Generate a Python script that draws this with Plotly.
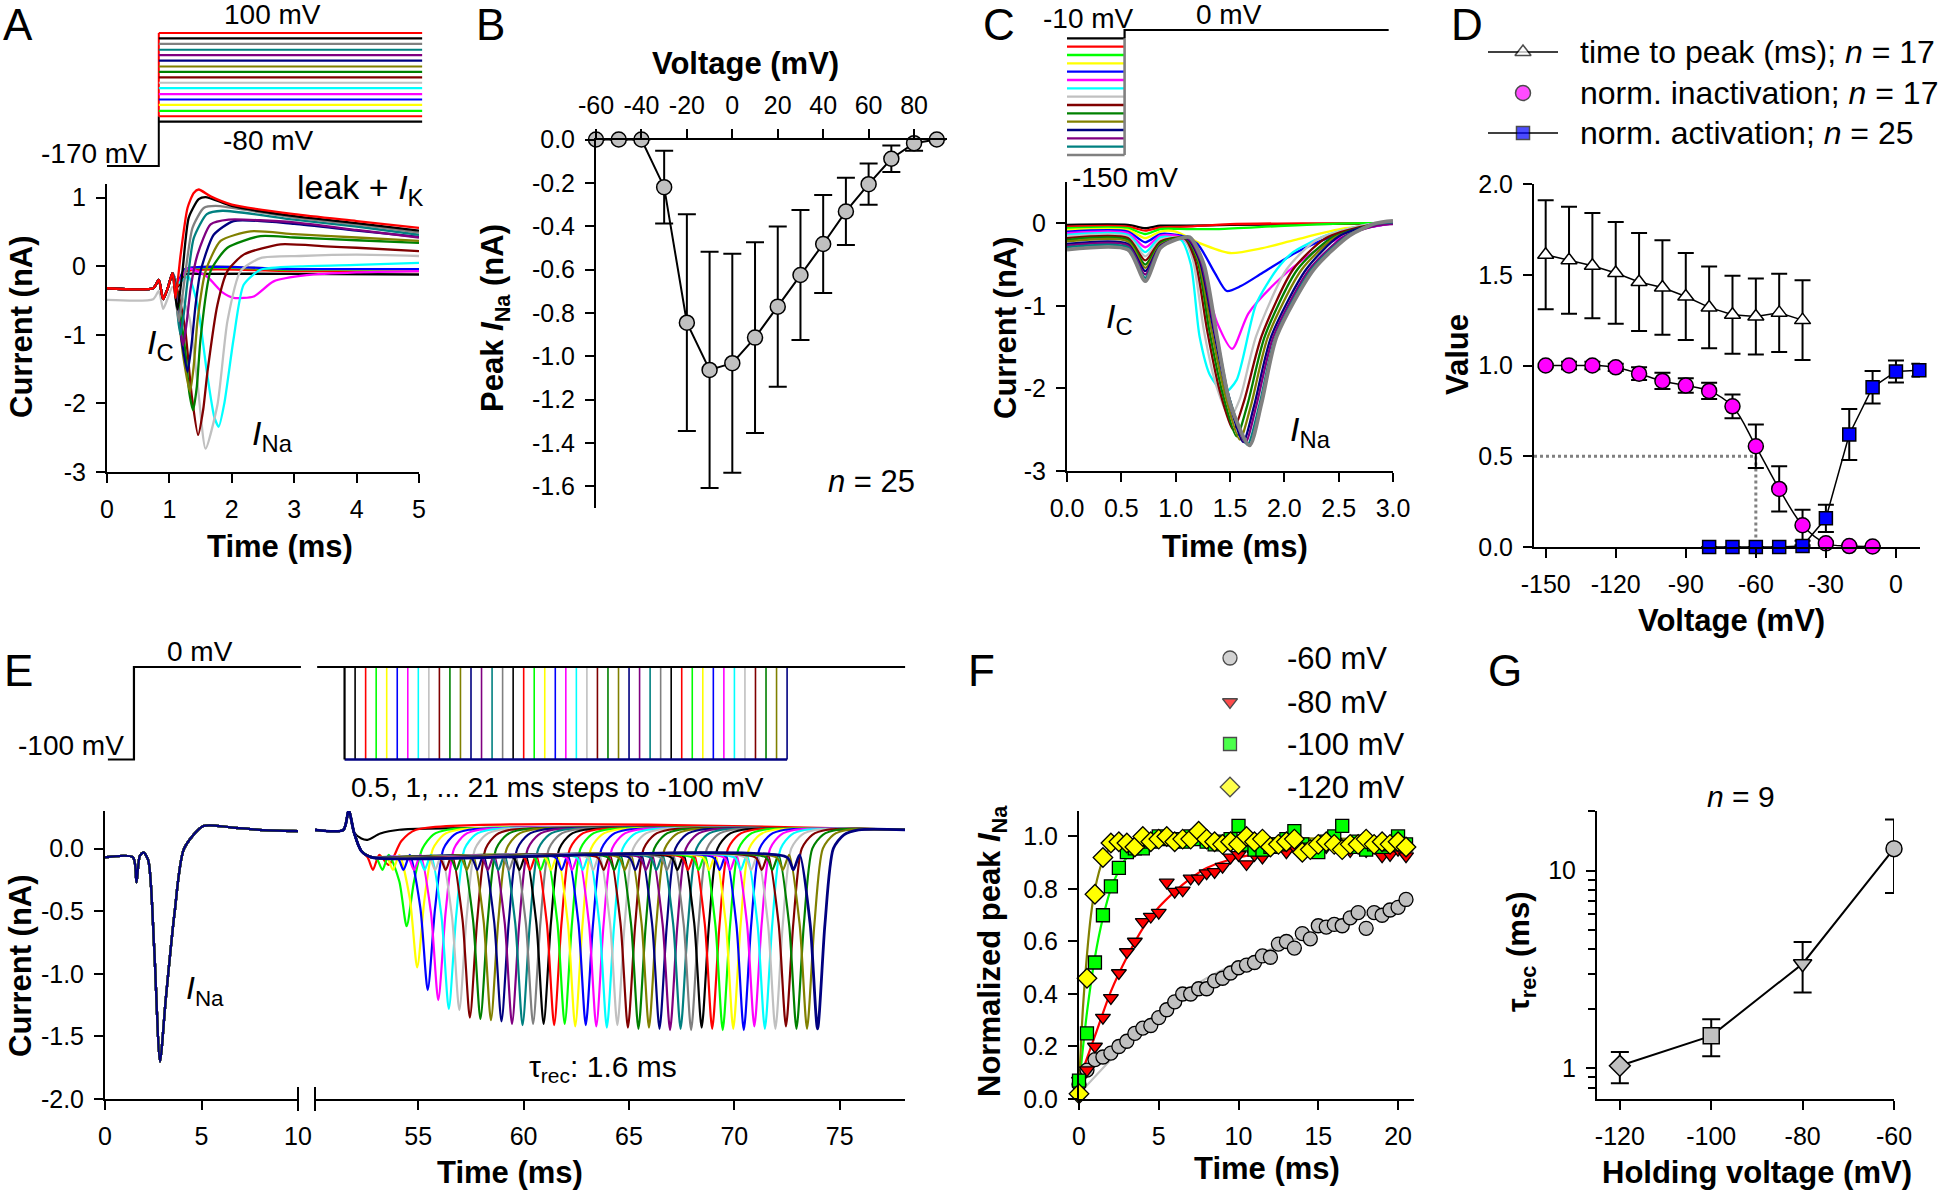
import math
import plotly.graph_objects as go

W, H = 1944, 1192
FONT = "Liberation Sans, Arial, Helvetica, sans-serif"

# SigmaPlot-like colour cycle used for the families of traces
PAL = ["#000000", "#FF0000", "#00FF00", "#FFFF00", "#0000FF", "#FF00FF", "#00FFFF",
       "#C0C0C0", "#800000", "#008000", "#808000", "#000080", "#800080", "#008080", "#808080"]

# ---------------- Panel A : activation protocol and currents ----------------
A_LEVELS_MV = [-80, -69, -58, -46, -35, -24, -12, -1, 10, 21, 32, 44, 55, 66, 78, 89, 100]
A_HOLD_MV = -170
A_STEP_MS = 0.83
A_END_MS = 5.05
A_PRE = [(0.0, -0.32), (0.74, -0.32), (0.83, -0.20), (0.90, -0.48), (0.98, -0.30), (1.05, -0.10)]
A_TRACES = [
    [(1.13, -0.30), (1.25, -0.12), (1.5, -0.11), (3.0, -0.11), (5.0, -0.12)],
    [(1.13, -0.28), (1.25, -0.08), (3.0, -0.07), (5.0, -0.07)],
    [(1.13, -0.26), (1.25, -0.05), (3.0, -0.05), (5.0, -0.05)],
    [(1.13, -0.25), (1.25, -0.04), (3.0, -0.04), (5.0, -0.05)],
    [(1.13, -0.25), (1.25, -0.04), (3.0, -0.04), (5.0, -0.04)],
    [(1.13, -0.25), (1.29, -0.03), (1.6, -0.15), (1.85, -0.38), (2.03, -0.46), (2.35, -0.44),
     (2.67, -0.22), (3.2, -0.13), (4.0, -0.09), (5.0, -0.07)],
    [(1.13, -0.25), (1.3, -0.15), (1.45, -0.56), (1.6, -1.54), (1.72, -2.20), (1.79, -2.34),
     (1.88, -2.00), (2.03, -1.05), (2.19, -0.27), (2.46, -0.05), (3.1, 0.0), (4.0, 0.02), (5.0, 0.05)],
    [(0.0, -0.49), (0.74, -0.48), (0.83, -0.36), (0.90, -0.62), (0.98, -0.45), (1.05, -0.30),
     (1.2, -0.45), (1.32, -0.75), (1.45, -1.70), (1.58, -2.66), (1.77, -2.02), (1.93, -0.80),
     (2.14, -0.07), (2.46, 0.12), (3.1, 0.15), (4.0, 0.17), (5.0, 0.15)],
    [(1.13, -0.35), (1.25, -0.90), (1.36, -1.90), (1.46, -2.46), (1.54, -2.10), (1.61, -1.54),
     (1.77, -0.56), (1.93, -0.07), (2.19, 0.17), (2.78, 0.32), (3.5, 0.29), (4.0, 0.27), (5.0, 0.22)],
    [(1.13, -0.45), (1.25, -1.20), (1.32, -1.85), (1.38, -2.10), (1.44, -1.75), (1.5, -1.05),
     (1.66, -0.07), (1.93, 0.27), (2.46, 0.44), (3.0, 0.42), (4.0, 0.38), (5.0, 0.34)],
    [(1.12, -0.50), (1.22, -1.30), (1.33, -1.83), (1.39, -1.45), (1.45, -0.80), (1.58, -0.07),
     (1.82, 0.37), (2.3, 0.51), (3.0, 0.47), (4.0, 0.42), (5.0, 0.37)],
    [(1.12, -0.50), (1.2, -1.10), (1.29, -1.54), (1.36, -1.10), (1.42, -0.56), (1.5, -0.07),
     (1.71, 0.46), (2.03, 0.66), (3.0, 0.62), (4.0, 0.52), (5.0, 0.43)],
    [(1.12, -0.50), (1.17, -0.90), (1.22, -1.15), (1.28, -0.80), (1.34, -0.32), (1.45, 0.17),
     (1.66, 0.61), (1.95, 0.68), (3.0, 0.64), (4.0, 0.53), (5.0, 0.42)],
    [(1.11, -0.50), (1.15, -0.85), (1.18, -1.00), (1.23, -0.70), (1.29, -0.22), (1.39, 0.41),
     (1.6, 0.76), (1.85, 0.81), (3.0, 0.68), (4.0, 0.58), (5.0, 0.46)],
    [(1.10, -0.45), (1.15, -0.80), (1.2, -0.50), (1.26, -0.07), (1.37, 0.56), (1.55, 0.85),
     (1.74, 0.88), (3.0, 0.71), (4.0, 0.61), (5.0, 0.49)],
    [(1.09, -0.40), (1.13, -0.63), (1.21, -0.07), (1.31, 0.71), (1.47, 0.98), (1.58, 1.01),
     (2.0, 0.88), (3.0, 0.73), (4.0, 0.63), (5.0, 0.52)],
    [(1.08, -0.30), (1.10, -0.46), (1.18, 0.17), (1.29, 0.85), (1.39, 1.07), (1.47, 1.12),
     (1.66, 1.02), (2.0, 0.90), (3.0, 0.76), (4.0, 0.66), (5.0, 0.56)],
]

# ---------------- Panel B : peak I-V ----------------
B_V = [-60, -50, -40, -30, -20, -10, 0, 10, 20, 30, 40, 50, 60, 70, 80, 90]
B_I = [0.0, 0.0, 0.0, -0.22, -0.845, -1.063, -1.032, -0.914, -0.771, -0.625, -0.482,
       -0.332, -0.206, -0.089, -0.017, 0.0]
B_ERR = [0, 0, 0, 0.168, 0.50, 0.545, 0.505, 0.44, 0.37, 0.30, 0.226, 0.155, 0.095,
         0.061, 0.035, 0]

# ---------------- Panel C : inactivation protocol and currents ----------------
C_PRE_MV = [-10, -20, -30, -40, -50, -60, -70, -80, -90, -100, -110, -120, -130, -140, -150]
C_TEST_MV = 0
C_STEP_MS = 0.53
C_END_MS = 2.96
C_TRACES = [
    [(0, -0.02), (0.56, -0.02), (0.72, -0.06), (0.86, -0.03), (1.1, -0.03), (1.5, -0.02), (2.2, -0.01), (3.0, 0.0)],
    [(0, -0.04), (0.56, -0.04), (0.72, -0.09), (0.86, -0.05), (1.1, -0.04), (1.5, -0.01), (2.2, 0.0), (3.0, 0.0)],
    [(0, -0.06), (0.56, -0.06), (0.72, -0.13), (0.86, -0.07), (1.1, -0.07), (1.4, -0.07), (2.0, -0.03), (2.6, 0.0), (3.0, 0.0)],
    [(0, -0.08), (0.56, -0.08), (0.72, -0.18), (0.86, -0.10), (1.0, -0.10), (1.22, -0.24), (1.5, -0.36), (1.8, -0.30),
     (2.1, -0.20), (2.56, -0.06), (3.0, 0.0)],
    [(0, -0.10), (0.56, -0.10), (0.72, -0.23), (0.86, -0.13), (1.05, -0.15), (1.2, -0.25), (1.36, -0.60), (1.47, -0.82),
     (1.6, -0.76), (1.8, -0.60), (2.1, -0.36), (2.4, -0.18), (2.72, -0.06), (3.0, 0.0)],
    [(0, -0.12), (0.56, -0.12), (0.72, -0.29), (0.86, -0.15), (1.05, -0.17), (1.22, -0.50), (1.38, -1.20), (1.52, -1.52),
     (1.67, -1.09), (1.92, -0.72), (2.17, -0.44), (2.41, -0.24), (2.75, -0.06), (3.0, 0.0)],
    [(0, -0.14), (0.56, -0.14), (0.72, -0.35), (0.86, -0.17), (1.05, -0.20), (1.14, -0.50), (1.22, -1.37), (1.32, -1.85),
     (1.45, -2.05), (1.56, -1.90), (1.74, -0.98), (1.93, -0.56), (2.08, -0.35), (2.38, -0.15), (2.75, -0.02), (3.0, 0.01)],
    [(0, -0.16), (0.56, -0.16), (0.72, -0.40), (0.86, -0.20), (1.07, -0.18), (1.16, -0.45), (1.26, -1.30), (1.37, -1.95),
     (1.5, -2.35), (1.59, -2.13), (1.74, -1.37), (2.02, -0.56), (2.3, -0.20), (2.7, -0.03), (3.0, 0.01)],
    [(0, -0.18), (0.56, -0.18), (0.72, -0.45), (0.86, -0.22), (1.08, -0.18), (1.18, -0.45), (1.29, -1.30), (1.4, -2.00),
     (1.53, -2.50), (1.63, -2.15), (1.79, -1.37), (2.08, -0.56), (2.38, -0.18), (2.75, -0.03), (3.0, 0.01)],
    [(0, -0.20), (0.56, -0.20), (0.72, -0.50), (0.86, -0.24), (1.09, -0.18), (1.2, -0.45), (1.31, -1.30), (1.43, -2.05),
     (1.56, -2.58), (1.66, -2.20), (1.82, -1.37), (2.12, -0.56), (2.43, -0.18), (2.78, -0.03), (3.0, 0.01)],
    [(0, -0.22), (0.56, -0.22), (0.72, -0.54), (0.86, -0.26), (1.10, -0.18), (1.21, -0.45), (1.33, -1.30), (1.45, -2.05),
     (1.59, -2.62), (1.69, -2.22), (1.85, -1.37), (2.16, -0.56), (2.47, -0.17), (2.8, -0.03), (3.0, 0.01)],
    [(0, -0.25), (0.56, -0.25), (0.72, -0.58), (0.86, -0.27), (1.10, -0.18), (1.22, -0.45), (1.35, -1.30), (1.47, -2.05),
     (1.62, -2.65), (1.72, -2.22), (1.88, -1.37), (2.2, -0.56), (2.5, -0.16), (2.82, -0.02), (3.0, 0.01)],
    [(0, -0.27), (0.56, -0.27), (0.72, -0.62), (0.86, -0.28), (1.11, -0.18), (1.23, -0.45), (1.36, -1.30), (1.48, -2.05),
     (1.64, -2.66), (1.74, -2.22), (1.9, -1.37), (2.23, -0.56), (2.55, -0.16), (2.84, -0.03), (3.0, -0.01)],
    [(0, -0.29), (0.56, -0.29), (0.72, -0.66), (0.86, -0.29), (1.12, -0.17), (1.24, -0.45), (1.37, -1.30), (1.49, -2.10),
     (1.66, -2.68), (1.77, -2.20), (1.92, -1.37), (2.25, -0.56), (2.58, -0.15), (2.84, -0.01), (3.0, 0.01)],
    [(0, -0.32), (0.56, -0.32), (0.72, -0.70), (0.86, -0.30), (1.0, -0.20), (1.13, -0.17), (1.26, -0.50), (1.38, -1.37),
     (1.5, -2.18), (1.68, -2.69), (1.79, -2.18), (1.93, -1.37), (2.27, -0.56), (2.6, -0.15), (2.84, 0.0), (3.0, 0.03)],
]

# ---------------- Panel D : summary ----------------
D_TTP_V = [-150, -140, -130, -120, -110, -100, -90, -80, -70, -60, -50, -40]
D_TTP = [1.61, 1.58, 1.55, 1.51, 1.46, 1.43, 1.38, 1.32, 1.28, 1.27, 1.29, 1.25]
D_TTP_ERR = [0.30, 0.295, 0.29, 0.28, 0.27, 0.26, 0.24, 0.225, 0.215, 0.21, 0.215, 0.22]
D_INACT_V = [-150, -140, -130, -120, -110, -100, -90, -80, -70, -60, -50, -40, -30, -20, -10]
D_INACT = [1.0, 1.0, 1.0, 0.99, 0.955, 0.915, 0.89, 0.86, 0.775, 0.555, 0.32, 0.12, 0.02, 0.005, 0.003]
D_INACT_ERR = [0.01, 0.02, 0.02, 0.02, 0.035, 0.045, 0.04, 0.045, 0.065, 0.12, 0.125, 0.085, 0.01, 0.005, 0.003]
D_ACT_V = [-80, -70, -60, -50, -40, -30, -20, -10, 0, 10]
D_ACT = [0.0, 0.0, 0.0, 0.0, 0.005, 0.158, 0.62, 0.88, 0.967, 0.974]
D_ACT_ERR = [0, 0, 0, 0, 0.005, 0.075, 0.14, 0.09, 0.06, 0.035]
D_HALF_V = -60
D_HALF_LEVEL = 0.5

# ---------------- Panel E : recovery protocol and currents ----------------
E_HOLD_MV = -100
E_TEST_MV = 0
E_FIRST_STEP_MS = 1.5
E_LEFT_T = [0.0, 1.45, 1.63, 1.8, 2.0, 2.25, 2.55, 2.85, 3.15, 3.6, 4.1, 5.1, 6.5, 8.0, 10.0]
E_LEFT_I = [-0.07, -0.07, -0.27, -0.06, -0.03, -0.10, -0.80, -1.70, -1.20, -0.52, 0.0, 0.18, 0.17, 0.15, 0.14]
E_STEP_START_MS = 51.5
E_STEP_MS = [0.5, 1.0, 1.5, 2.0, 2.5, 3.0, 3.5, 4.0, 4.5, 5.0, 5.5, 6.0, 6.5, 7.0, 7.5, 8.0, 8.5,
             9.0, 9.5, 10.0, 10.5, 11.0, 11.5, 12.0, 12.5, 13.0, 13.5, 14.0, 14.5, 15.0, 15.5,
             16.0, 16.5, 17.0, 17.5, 18.0, 18.5, 19.0, 19.5, 20.0, 20.5, 21.0]
E_PEAK = [-0.03, -0.15, -0.62, -0.95, -1.13, -1.21, -1.28, -1.29, -1.35, -1.36,
          -1.37, -1.38, -1.40, -1.41, -1.40, -1.40, -1.41, -1.40, -1.42, -1.41,
          -1.42, -1.43, -1.41, -1.43, -1.44, -1.43, -1.44, -1.45, -1.44, -1.45,
          -1.43, -1.44, -1.45, -1.44, -1.45, -1.42, -1.44, -1.44, -1.42, -1.44,
          -1.44, -1.44]
E_PRE = [(50.1, 0.15), (51.45, 0.15), (51.7, 0.31), (51.95, 0.13), (52.3, -0.02), (52.8, -0.07)]
E_HOLD_I = -0.07
E_RISE_DT = [0.3, 0.6]
E_RISE_I = [-0.17, -0.05]
E_PEAK_DT = [1.1, 1.45, 1.8]
E_PEAK_FRAC = [0.42, 1.0, 0.42]
E_REC_DT = [2.2, 2.7, 3.4]
E_REC_I = [0.0, 0.11, 0.15]
E_END = (78.1, 0.15)
E_EARLY = [
    [(50.1, 0.15), (51.45, 0.15), (51.7, 0.31), (51.95, 0.13), (52.3, 0.08), (52.6, 0.07), (53.2, 0.12),
     (54.1, 0.15), (78.1, 0.15)],
    [(50.1, 0.15), (51.45, 0.15), (51.7, 0.31), (51.95, 0.13), (52.3, -0.02), (52.6, -0.07), (52.85, -0.17),
     (53.15, -0.05), (53.6, -0.13), (54.2, 0.06), (54.9, 0.15), (78.1, 0.15)],
]

# ---------------- Panel F : recovery time course ----------------
F_T = [0.0, 0.5, 1.0, 1.5, 2.0, 2.5, 3.0, 3.5, 4.0, 4.5, 5.0, 5.5, 6.0, 6.5, 7.0, 7.5, 8.0, 8.5,
       9.0, 9.5, 10.0, 10.5, 11.0, 11.5, 12.0, 12.5, 13.0, 13.5, 14.0, 14.5, 15.0, 15.5, 16.0,
       16.5, 17.0, 17.5, 18.0, 18.5, 19.0, 19.5, 20.0, 20.5]
F_60 = [0.056, 0.11, 0.15, 0.16, 0.175, 0.2, 0.22, 0.25, 0.27, 0.28, 0.31, 0.34, 0.37, 0.40, 0.40,
        0.42, 0.42, 0.45, 0.46, 0.48, 0.50, 0.51, 0.52, 0.545, 0.54, 0.59, 0.60, 0.575, 0.63, 0.61,
        0.66, 0.655, 0.665, 0.66, 0.69, 0.71, 0.65, 0.71, 0.70, 0.72, 0.73, 0.76]
F_80 = [0.07, 0.11, 0.20, 0.31, 0.385, 0.48, 0.56, 0.60, 0.675, 0.695, 0.71, 0.825, 0.79, 0.795,
        0.84, 0.84, 0.86, 0.865, 0.885, 0.92, 0.93, 0.895, 0.93, 0.92, 0.95, 0.965, 0.94, 0.96,
        0.96, 0.96, 0.955, 0.96, 0.98, 0.95, 0.945, 0.97, 0.945, 0.96, 0.925, 0.93, 0.95, 0.925]
F_100 = [0.07, 0.25, 0.52, 0.70, 0.81, 0.88, 0.94, 0.955, 0.955, 0.98, 1.0, 0.99, 0.99, 0.98, 1.0,
         0.99, 0.98, 0.97, 0.98, 0.99, 1.04, 0.97, 0.95, 0.95, 0.96, 0.97, 0.99, 1.02, 0.97, 0.95,
         0.94, 0.98, 1.0, 1.04, 0.96, 0.98, 0.95, 0.97, 0.96, 0.97, 1.0, 0.97]
F_120 = [0.02, 0.46, 0.78, 0.92, 0.975, 0.98, 0.975, 0.96, 1.0, 0.98, 0.99, 1.0, 0.98, 0.99, 0.99,
         1.02, 0.99, 0.98, 0.97, 0.98, 0.97, 1.0, 0.98, 0.99, 0.96, 0.97, 0.98, 0.99, 0.94, 0.95,
         0.97, 0.98, 0.97, 0.95, 0.97, 0.97, 0.99, 0.97, 0.98, 0.97, 0.98, 0.96]
F_FIT_60 = [(0, 0.02), (2, 0.15), (4, 0.28), (6, 0.38), (8, 0.46), (10, 0.52), (12, 0.57), (14, 0.62),
            (16, 0.66), (18, 0.70), (20.5, 0.74)]
F_FIT_80 = [(0, 0.07), (1, 0.24), (2, 0.41), (3, 0.54), (4, 0.65), (5, 0.73), (6, 0.79), (7, 0.84),
            (8, 0.88), (10, 0.92), (12, 0.94), (15, 0.96), (20.5, 0.96)]
F_FIT_100 = [(0, 0.05), (0.5, 0.33), (1.0, 0.54), (1.5, 0.69), (2.0, 0.80), (2.5, 0.87), (3.0, 0.92),
             (4.0, 0.96), (6.0, 0.98), (20.5, 0.98)]
F_FIT_120 = [(0, 0.05), (0.25, 0.35), (0.5, 0.55), (0.75, 0.70), (1.0, 0.80), (1.5, 0.91), (2.0, 0.96),
             (2.5, 0.98), (3.5, 0.99), (20.5, 0.99)]
F_LABELS = ["-60 mV", "-80 mV", "-100 mV", "-120 mV"]

# ---------------- Panel G : tau_rec vs holding voltage ----------------
G_V = [-120, -100, -80, -60]
G_TAU = [1.03, 1.46, 3.38, 12.9]
G_HI = [1.21, 1.77, 4.35, 18.1]
G_LO = [0.84, 1.15, 2.42, 7.71]
G_SYMBOLS = ["diamond", "square", "triangle-down", "circle"]

# =====================================================================
def dom_x(a, b):
    return [a / W, b / W]


def dom_y(top, bottom):
    return [1 - bottom / H, 1 - top / H]


def px(x):
    return x / W


def py(y):
    return 1 - y / H


AX = dict(showline=True, linecolor="black", linewidth=2, ticks="outside", ticklen=9,
          tickwidth=2, tickcolor="black", showgrid=False, zeroline=False, automargin=False,
          tickfont=dict(family=FONT, size=25, color="black"), fixedrange=True,
          ticklabelstandoff=5)
HID = dict(visible=False, showgrid=False, zeroline=False, fixedrange=True, automargin=False)


def tick_array(vals, fmt):
    return dict(tickmode="array", tickvals=vals, ticktext=[fmt.format(v) for v in vals])


layout = dict(width=W, height=H, margin=dict(l=0, r=0, t=0, b=0, pad=0, autoexpand=False),
              paper_bgcolor="white", plot_bgcolor="rgba(0,0,0,0)", showlegend=False,
              template="none", font=dict(family=FONT, size=26, color="black"))


def set_axes(n, xdict, ydict):
    xk = "xaxis" if n == 1 else f"xaxis{n}"
    yk = "yaxis" if n == 1 else f"yaxis{n}"
    xa = "x" if n == 1 else f"x{n}"
    ya = "y" if n == 1 else f"y{n}"
    layout[xk] = dict(xdict, anchor=ya)
    layout[yk] = dict(ydict, anchor=xa)


def axref(n):
    return ("x" if n == 1 else f"x{n}"), ("y" if n == 1 else f"y{n}")


fig = go.Figure()


def add_line(n, xs, ys, color, width=2.0, spline=False, dash=None, smoothing=0.8):
    xa, ya = axref(n)
    line = dict(color=color, width=width)
    if spline:
        line.update(shape="spline", smoothing=smoothing)
    if dash:
        line["dash"] = dash
    fig.add_trace(go.Scatter(x=xs, y=ys, mode="lines", xaxis=xa, yaxis=ya, line=line,
                             hoverinfo="skip"))


# ---------------- axes ----------------
set_axes(1, dict(HID, domain=dom_x(100, 430), range=[-0.112, 5.176]),
         dict(HID, domain=dom_y(26, 173), range=[-184.2, 114.2]))
set_axes(2, dict(AX, domain=dom_x(107, 419), range=[0, 5], **tick_array([0, 1, 2, 3, 4, 5], "{:g}")),
         dict(AX, domain=dom_y(184, 472), range=[-3, 1.2], **tick_array([-3, -2, -1, 0, 1], "{:g}")))
set_axes(3, dict(AX, domain=dom_x(596, 947), range=[-60, 94.5], side="top",
                 **tick_array([-60, -40, -20, 0, 20, 40, 60, 80], "{:g}")),
         dict(AX, domain=dom_y(139.5, 508), range=[-1.7, 0],
              **tick_array([0.0, -0.2, -0.4, -0.6, -0.8, -1.0, -1.2, -1.4, -1.6], "{:.1f}")))
set_axes(4, dict(HID, domain=dom_x(1060, 1400), range=[-0.0644, 3.0644]),
         dict(HID, domain=dom_y(22, 163), range=[-159.6, 9.6]))
set_axes(5, dict(AX, domain=dom_x(1067, 1393), range=[0, 3],
                 **tick_array([0.0, 0.5, 1.0, 1.5, 2.0, 2.5, 3.0], "{:.1f}")),
         dict(AX, domain=dom_y(182, 471), range=[-3, 0.5], **tick_array([-3, -2, -1, 0], "{:g}")))
set_axes(6, dict(AX, domain=dom_x(1534, 1920), range=[-155, 10.3],
                 **tick_array([-150, -120, -90, -60, -30, 0], "{:g}")),
         dict(AX, domain=dom_y(184, 547), range=[0, 2.0],
              **tick_array([0.0, 0.5, 1.0, 1.5, 2.0], "{:.1f}")))
set_axes(7, dict(HID, domain=dom_x(100, 310), range=[-0.259, 10.62]),
         dict(HID, domain=dom_y(660, 767), range=[-108.1, 7.57]))
set_axes(8, dict(HID, domain=dom_x(310, 915), range=[49.86, 78.57]),
         dict(HID, domain=dom_y(660, 767), range=[-108.1, 7.57]))
set_axes(9, dict(AX, domain=dom_x(105, 298), range=[0, 10], **tick_array([0, 5, 10], "{:g}")),
         dict(AX, domain=dom_y(811, 1099), range=[-2.0, 0.3],
              **tick_array([-2.0, -1.5, -1.0, -0.5, 0.0], "{:.1f}")))
set_axes(10, dict(AX, domain=dom_x(315, 905), range=[50.1, 78.1],
                  **tick_array([55, 60, 65, 70, 75], "{:g}")),
         dict(HID, domain=dom_y(811, 1099), range=[-2.0, 0.3]))
set_axes(11, dict(AX, domain=dom_x(1079, 1414), range=[0, 21.0], **tick_array([0, 5, 10, 15, 20], "{:g}")),
         dict(AX, domain=dom_y(811, 1099), range=[0, 1.097],
              **tick_array([0.0, 0.2, 0.4, 0.6, 0.8, 1.0], "{:.1f}")))
set_axes(12, dict(AX, domain=dom_x(1597, 1894), range=[-125, -60],
                  **tick_array([-120, -100, -80, -60], "{:g}")),
         dict(AX, domain=dom_y(811, 1099), type="log", range=[math.log10(0.7), math.log10(20)],
              tickmode="array", tickvals=[1, 10], ticktext=["1", "10"],
              minor=dict(tickmode="array", tickvals=[0.8, 0.9, 2, 3, 4, 5, 6, 7, 8, 9, 20],
                         ticks="outside", ticklen=7, tickwidth=2, tickcolor="black")))
set_axes(13, dict(HID, domain=[0, 1], range=[0, W]), dict(HID, domain=[0, 1], range=[H, 0]))

# ---------------- Panel A ----------------
add_line(1, [0, A_STEP_MS, A_STEP_MS], [A_HOLD_MV, A_HOLD_MV, A_LEVELS_MV[1]], "#000000")
add_line(1, [A_STEP_MS, A_STEP_MS], [A_LEVELS_MV[1], A_LEVELS_MV[-1]], "#FF0000")
for i, v in enumerate(A_LEVELS_MV):
    add_line(1, [A_STEP_MS, A_END_MS], [v, v], PAL[i % 15], width=2.2)
for i, tr in enumerate(A_TRACES):
    pts = tr if tr[0][0] == 0.0 else A_PRE + tr
    add_line(2, [p[0] for p in pts], [p[1] for p in pts], PAL[i % 15], width=2.3, spline=True,
             smoothing=0.6)

# ---------------- Panel B ----------------
fig.add_trace(go.Scatter(x=B_V, y=B_I, mode="lines+markers", xaxis="x3", yaxis="y3",
                         line=dict(color="black", width=2),
                         marker=dict(size=15, color="#C0C0C0", line=dict(color="black", width=1.5)),
                         error_y=dict(type="data", array=B_ERR, visible=True, color="black",
                                      thickness=2, width=9),
                         cliponaxis=False, hoverinfo="skip"))

# ---------------- Panel C ----------------
for i, v in enumerate(C_PRE_MV):
    add_line(4, [0, C_STEP_MS], [v, v], PAL[i % 15], width=2.4)
add_line(4, [C_STEP_MS, C_STEP_MS], [C_PRE_MV[-1], C_PRE_MV[0]], "#808080", width=2.6)
add_line(4, [C_STEP_MS, C_STEP_MS, C_END_MS], [C_PRE_MV[0], C_TEST_MV, C_TEST_MV], "#000000", width=2.2)
for i, tr in enumerate(C_TRACES):
    w = 3.8 if i == len(C_TRACES) - 1 else 2.3
    add_line(5, [p[0] for p in tr], [p[1] for p in tr], PAL[i % 15], width=w, spline=True, smoothing=0.7)

# ---------------- Panel D ----------------
add_line(6, [-155, D_HALF_V, D_HALF_V], [D_HALF_LEVEL, D_HALF_LEVEL, 0], "#808080", width=3, dash="dot")
fig.add_trace(go.Scatter(x=D_TTP_V, y=D_TTP, mode="lines+markers", xaxis="x6", yaxis="y6",
                         line=dict(color="black", width=1.5),
                         marker=dict(symbol="triangle-up", size=14, color="white",
                                     line=dict(color="black", width=1.5)),
                         error_y=dict(type="data", array=D_TTP_ERR, visible=True, color="black",
                                      thickness=2, width=8), cliponaxis=False, hoverinfo="skip"))
fig.add_trace(go.Scatter(x=D_INACT_V, y=D_INACT, mode="lines", xaxis="x6", yaxis="y6",
                         line=dict(color="black", width=1.5, shape="spline", smoothing=1.0),
                         hoverinfo="skip"))
fig.add_trace(go.Scatter(x=D_INACT_V, y=D_INACT, mode="markers", xaxis="x6", yaxis="y6",
                         marker=dict(symbol="circle", size=15, color="#FF00FF",
                                     line=dict(color="black", width=1.5)),
                         error_y=dict(type="data", array=D_INACT_ERR, visible=True, color="black",
                                      thickness=2, width=8), cliponaxis=False, hoverinfo="skip"))
fig.add_trace(go.Scatter(x=D_ACT_V, y=D_ACT, mode="lines+markers", xaxis="x6", yaxis="y6",
                         line=dict(color="black", width=1.5),
                         marker=dict(symbol="square", size=13, color="#0000FF",
                                     line=dict(color="black", width=1.5)),
                         error_y=dict(type="data", array=D_ACT_ERR, visible=True, color="black",
                                      thickness=2, width=8), cliponaxis=False, hoverinfo="skip"))

# ---------------- Panel E ----------------
add_line(7, [0.15, E_FIRST_STEP_MS, E_FIRST_STEP_MS, 10.15], [E_HOLD_MV, E_HOLD_MV, E_TEST_MV, E_TEST_MV],
         "#000000", width=2.2)
returns = [E_STEP_START_MS + s for s in E_STEP_MS]
for k, tr_ms in enumerate(returns):
    add_line(8, [tr_ms, tr_ms], [E_HOLD_MV, E_TEST_MV], PAL[k % 15], width=1.6)
add_line(8, [E_STEP_START_MS, returns[-1]], [E_HOLD_MV, E_HOLD_MV], PAL[(len(returns) - 1) % 15], width=2.6)
add_line(8, [50.2, E_STEP_START_MS, E_STEP_START_MS], [E_TEST_MV, E_TEST_MV, E_HOLD_MV], "#000000", width=2.2)
add_line(8, [E_STEP_START_MS, 78.1], [E_TEST_MV, E_TEST_MV], "#000000", width=2.2)

for k in range(len(returns)):
    add_line(9, E_LEFT_T, E_LEFT_I, PAL[k % 15], width=2.2, spline=True, smoothing=0.7)
for k, tr_ms in enumerate(returns):
    if k < len(E_EARLY):
        pts = E_EARLY[k]
    else:
        P = E_PEAK[k]
        pts = list(E_PRE) + [(tr_ms, E_HOLD_I)]
        pts += [(tr_ms + d, v) for d, v in zip(E_RISE_DT, E_RISE_I)]
        pts += [(tr_ms + d, f * P) for d, f in zip(E_PEAK_DT, E_PEAK_FRAC)]
        pts += [(tr_ms + d, v) for d, v in zip(E_REC_DT, E_REC_I)]
        if pts[-1][0] < E_END[0]:
            pts.append(E_END)
    w = 2.8 if k == len(returns) - 1 else 2.2
    add_line(10, [p[0] for p in pts], [p[1] for p in pts], PAL[k % 15], width=w, spline=True,
             smoothing=0.7)

# ---------------- Panel F ----------------
for fit, col in [(F_FIT_60, "#C0C0C0"), (F_FIT_80, "#FF0000"), (F_FIT_100, "#00FF00"), (F_FIT_120, "#808000")]:
    add_line(11, [p[0] for p in fit], [p[1] for p in fit], col, width=2.2, spline=True)
F_SERIES = [(F_60, "circle", "#C0C0C0", 14), (F_80, "triangle-down", "#FF0000", 13),
            (F_100, "square", "#00FF00", 13), (F_120, "diamond", "#FFFF00", 15)]
for ys, sym, col, sz in F_SERIES:
    fig.add_trace(go.Scatter(x=F_T, y=ys, mode="markers", xaxis="x11", yaxis="y11",
                             marker=dict(symbol=sym, size=sz, color=col, line=dict(color="black", width=1.3)),
                             cliponaxis=False, hoverinfo="skip"))

# ---------------- Panel G ----------------
fig.add_trace(go.Scatter(x=G_V, y=G_TAU, mode="lines+markers", xaxis="x12", yaxis="y12",
                         line=dict(color="black", width=2),
                         marker=dict(symbol=G_SYMBOLS, size=16, color="#C0C0C0",
                                     line=dict(color="black", width=1.5)),
                         error_y=dict(type="data", symmetric=False,
                                      array=[h - t for h, t in zip(G_HI, G_TAU)],
                                      arrayminus=[t - l for l, t in zip(G_LO, G_TAU)],
                                      visible=True, color="black", thickness=2, width=9),
                         cliponaxis=False, hoverinfo="skip"))

# ---------------- legend symbols (pixel overlay) ----------------
add_line(13, [1488, 1558], [52, 52], "black", width=1.5)
add_line(13, [1488, 1558], [133, 133], "black", width=1.5)
fig.add_trace(go.Scatter(x=[1523, 1523, 1523], y=[52, 93, 133], mode="markers", xaxis="x13", yaxis="y13",
                         marker=dict(symbol=["triangle-up", "circle", "square"], size=[14, 15, 13],
                                     color=["white", "#FF00FF", "#0000FF"],
                                     line=dict(color="black", width=1.5)),
                         cliponaxis=False, hoverinfo="skip"))
fig.add_trace(go.Scatter(x=[1230] * 4, y=[658, 702, 744, 787], mode="markers", xaxis="x13", yaxis="y13",
                         marker=dict(symbol=[s[1] for s in F_SERIES], size=[s[3] for s in F_SERIES],
                                     color=[s[2] for s in F_SERIES], line=dict(color="black", width=1.3)),
                         cliponaxis=False, hoverinfo="skip"))

# ---------------- axis-break marks in E ----------------
shapes = []
for xb in (298, 315):
    shapes.append(dict(type="line", xref="paper", yref="paper", x0=px(xb), x1=px(xb),
                       y0=py(1087), y1=py(1111), line=dict(color="black", width=2)))
layout["shapes"] = shapes

# ---------------- text ----------------
annotations = []


def ann(text, x, y, size=26, bold=False, angle=0, xanchor="center"):
    t = f"<b>{text}</b>" if bold else text
    annotations.append(dict(text=t, x=px(x), y=py(y), xref="paper", yref="paper", showarrow=False,
                            xanchor=xanchor, yanchor="middle", textangle=angle,
                            font=dict(family=FONT, size=size, color="black")))


for letter, x, y in [("A", 18, 25), ("B", 490, 25), ("C", 999, 25), ("D", 1467, 25),
                     ("E", 18, 670), ("F", 982, 670), ("G", 1505, 670)]:
    ann(letter, x, y, size=44)

TS = 31
ann("100 mV", 272, 15, 28)
ann("-80 mV", 268, 140, 28)
ann("-170 mV", 94, 153, 28)
ann("leak + <i>I</i><sub>K</sub>", 360, 190, 34)
ann("<i>I</i><sub>C</sub>", 160, 344, 34)
ann("<i>I</i><sub>Na</sub>", 272, 436, 34)
ann("Time (ms)", 280, 547, TS, bold=True)
ann("Current (nA)", 21, 327, TS, bold=True, angle=-90)
ann("Voltage (mV)", 745, 63, TS, bold=True)
ann("Peak <i>I</i><sub>Na</sub> (nA)", 495, 318, TS, bold=True, angle=-90)
ann("<i>n</i> = 25", 871, 481, 31)
ann("-10 mV", 1088, 18, 28)
ann("0 mV", 1229, 15, 28)
ann("-150 mV", 1125, 177, 28)
ann("<i>I</i><sub>C</sub>", 1119, 319, 34)
ann("<i>I</i><sub>Na</sub>", 1310, 432, 34)
ann("Time (ms)", 1235, 547, TS, bold=True)
ann("Current (nA)", 1005, 327, TS, bold=True, angle=-90)
ann("time to peak (ms); <i>n</i> = 17", 1578, 52, 32, xanchor="left")
ann("norm. inactivation; <i>n</i> = 17", 1578, 93, 32, xanchor="left")
ann("norm. activation; <i>n</i> = 25", 1578, 133, 32, xanchor="left")
ann("Value", 1458, 355, TS, bold=True, angle=-90)
ann("Voltage (mV)", 1731, 620, TS, bold=True)
ann("0 mV", 200, 651, 28)
ann("-100 mV", 71, 745, 28)
ann("0.5, 1, ... 21 ms steps to -100 mV", 557, 787, 28)
ann("<i>I</i><sub>Na</sub>", 205, 990, 32)
ann("τ<sub>rec</sub>: 1.6 ms", 603, 1068, 30)
ann("Time (ms)", 510, 1172, TS, bold=True)
ann("Current (nA)", 20, 966, TS, bold=True, angle=-90)
for lab, yy in zip(F_LABELS, [658, 702, 744, 787]):
    ann(lab, 1285, yy, 31, xanchor="left")
ann("Time (ms)", 1267, 1168, TS, bold=True)
ann("Normalized peak <i>I</i><sub>Na</sub>", 992, 951, TS, bold=True, angle=-90)
ann("<i>n</i> = 9", 1741, 796, 30)
ann("Holding voltage (mV)", 1757, 1172, TS, bold=True)
ann("τ<sub>rec</sub> (ms)", 1521, 952, TS, bold=True, angle=-90)

layout["annotations"] = annotations
fig.update_layout(**layout)
fig.write_html("out.html", config={"displayModeBar": False, "staticPlot": True},
               post_script="document.body.style.margin='0';document.body.style.overflow='hidden';")
